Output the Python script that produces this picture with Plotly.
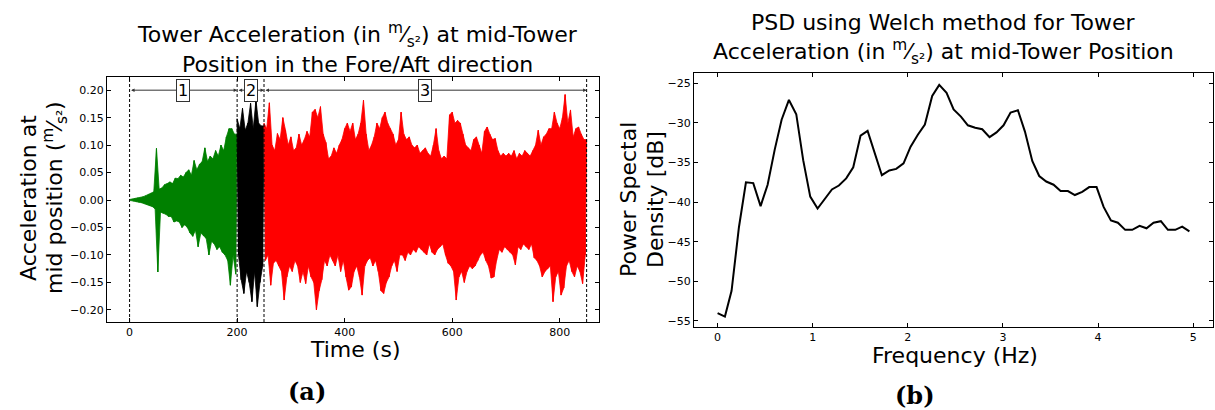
import plotly.graph_objects as go

# ---------------- data: PSD (right panel) ----------------
freq_hz = [0.0, 0.077, 0.147, 0.224, 0.298, 0.375, 0.452, 0.526, 0.6, 0.673, 0.75, 0.827, 0.9, 0.974,
           1.051, 1.128, 1.202, 1.275, 1.352, 1.426, 1.503, 1.577, 1.654, 1.727, 1.805, 1.878, 1.955,
           2.029, 2.105, 2.179, 2.256, 2.33, 2.407, 2.481, 2.558, 2.631, 2.708, 2.782, 2.859, 2.932,
           3.006, 3.08, 3.157, 3.231, 3.308, 3.381, 3.455, 3.532, 3.606, 3.683, 3.756, 3.833, 3.907,
           3.984, 4.058, 4.135, 4.208, 4.285, 4.359, 4.436, 4.509, 4.583, 4.66, 4.734, 4.811, 4.884, 4.96]
psd_db = [-54.0, -54.45, -51.2, -43.2, -37.5, -37.6, -40.5, -37.8, -33.4, -29.6, -27.1, -28.9, -34.7, -39.3,
          -40.8, -39.6, -38.4, -37.9, -37.0, -35.6, -31.6, -31.0, -34.0, -36.6, -36.0, -35.8, -35.1,
          -33.0, -31.5, -30.2, -26.6, -25.2, -26.2, -28.3, -29.2, -30.3, -30.6, -30.8, -31.8, -31.2,
          -30.3, -28.7, -28.4, -31.1, -34.8, -36.7, -37.4, -37.8, -38.6, -38.6, -39.1, -38.7, -38.1,
          -38.1, -40.6, -42.3, -42.6, -43.5, -43.5, -43.0, -43.3, -42.6, -42.4, -43.5, -43.5, -43.1, -43.7]

# ---------------- data: acceleration peaks (left panel), read every 5 s ----------------
STEP = 5
t_green = list(range(0, 200, STEP))
up_green = [0.001, 0.002, 0.003, 0.004, 0.004, 0.006, 0.008, 0.01, 0.012, 0.015,
            0.094, 0.02, 0.022, 0.028, 0.03, 0.033, 0.03, 0.04, 0.039, 0.045,
            0.042, 0.05, 0.055, 0.045, 0.072, 0.055, 0.065, 0.07, 0.095, 0.07,
            0.08, 0.075, 0.09, 0.08, 0.1, 0.09, 0.115, 0.13, 0.13, 0.12]
lo_green = [-0.001, -0.002, -0.003, -0.004, -0.005, -0.006, -0.008, -0.01, -0.012, -0.016,
            -0.131, -0.022, -0.024, -0.026, -0.03, -0.03, -0.04, -0.038, -0.04, -0.05,
            -0.045, -0.05, -0.06, -0.066, -0.055, -0.085, -0.06, -0.065, -0.07, -0.1,
            -0.075, -0.08, -0.09, -0.085, -0.095, -0.1, -0.11, -0.155, -0.1, -0.135]

t_black = list(range(200, 250, STEP))
up_black = [0.148, 0.13, 0.167, 0.127, 0.14, 0.176, 0.13, 0.182, 0.14, 0.135]
lo_black = [-0.1, -0.145, -0.17, -0.13, -0.15, -0.185, -0.13, -0.194, -0.15, -0.12]

t_red = list(range(250, 850, STEP))
up_red = [0.14, 0.13, 0.177, 0.1, 0.09, 0.121, 0.11, 0.15, 0.127, 0.1,
          0.115, 0.09, 0.095, 0.12, 0.1, 0.11, 0.125, 0.115, 0.16, 0.165,
          0.15, 0.17, 0.12, 0.105, 0.075, 0.08, 0.095, 0.085, 0.1, 0.11,
          0.13, 0.14, 0.125, 0.14, 0.11, 0.12, 0.14, 0.182, 0.12, 0.09,
          0.1, 0.115, 0.14, 0.13, 0.15, 0.16, 0.14, 0.13, 0.12, 0.1,
          0.11, 0.16, 0.12, 0.11, 0.115, 0.1, 0.095, 0.1, 0.085, 0.09,
          0.095, 0.085, 0.08, 0.1, 0.13, 0.09, 0.075, 0.08, 0.075, 0.155,
          0.16, 0.14, 0.145, 0.14, 0.12, 0.1, 0.095, 0.09, 0.11, 0.115,
          0.1, 0.085, 0.125, 0.133, 0.12, 0.11, 0.112, 0.09, 0.08, 0.085,
          0.08, 0.085, 0.08, 0.09, 0.075, 0.085, 0.08, 0.09, 0.085, 0.08,
          0.09, 0.1, 0.127, 0.1, 0.115, 0.12, 0.13, 0.13, 0.16, 0.14,
          0.13, 0.15, 0.192, 0.14, 0.164, 0.115, 0.13, 0.133, 0.12, 0.11]
lo_red = [-0.11, -0.1, -0.155, -0.115, -0.11, -0.12, -0.13, -0.182, -0.14, -0.12,
          -0.13, -0.11, -0.12, -0.15, -0.13, -0.152, -0.12, -0.14, -0.15, -0.2,
          -0.165, -0.145, -0.11, -0.12, -0.1, -0.11, -0.12, -0.1, -0.13, -0.11,
          -0.14, -0.164, -0.158, -0.13, -0.12, -0.14, -0.173, -0.12, -0.11, -0.105,
          -0.12, -0.11, -0.13, -0.165, -0.17, -0.15, -0.14, -0.12, -0.11, -0.13,
          -0.1, -0.1, -0.11, -0.095, -0.1, -0.09, -0.095, -0.085, -0.09, -0.095,
          -0.1, -0.08, -0.095, -0.1, -0.09, -0.085, -0.08, -0.1, -0.115, -0.12,
          -0.13, -0.182, -0.14, -0.13, -0.15, -0.13, -0.12, -0.125, -0.12, -0.11,
          -0.1, -0.095, -0.11, -0.12, -0.142, -0.14, -0.11, -0.09, -0.095, -0.085,
          -0.09, -0.095, -0.1, -0.118, -0.085, -0.09, -0.08, -0.085, -0.09, -0.08,
          -0.105, -0.11, -0.12, -0.14, -0.13, -0.125, -0.12, -0.185, -0.14, -0.13,
          -0.173, -0.16, -0.12, -0.11, -0.13, -0.14, -0.12, -0.13, -0.152, -0.1]

phase_bounds = [0, 200, 250, 850]
phase_labels = ["1", "2", "3"]
x_ticks_a = [0, 200, 400, 600, 800]
y_ticks_a = [-0.20, -0.15, -0.10, -0.05, 0.00, 0.05, 0.10, 0.15, 0.20]
x_ticks_b = [0, 1, 2, 3, 4, 5]
y_ticks_b = [-55, -50, -45, -40, -35, -30, -25]

FONT = "DejaVu Sans"
W, H = 1215, 410


def zigzag(ts, up, lo):
    xs, ys = [], []
    for t, u, l in zip(ts, up, lo):
        xs += [t, t + STEP / 2]
        ys += [u, l]
    return xs, ys


def envelope(ts, up, lo, t_end):
    # closed outline: upper peaks left->right, lower peaks right->left
    xs = list(ts) + [t_end] + [t + STEP / 2 for t in reversed(ts)]
    ys = list(up) + [up[-1]] + list(reversed(lo))
    return xs, ys


fig = go.Figure()
segments = [(t_green, up_green, lo_green, "#008000", 200),
            (t_black, up_black, lo_black, "#000000", 250),
            (t_red, up_red, lo_red, "#ff0000", 850)]
for ts, up, lo, col, t_end in segments:
    ex, ey = envelope(ts, up, lo, t_end)
    fig.add_trace(go.Scatter(x=ex, y=ey, mode="lines", fill="toself", fillcolor=col,
                             line=dict(color=col, width=0.8),
                             xaxis="x", yaxis="y", showlegend=False, hoverinfo="skip"))
    xs, ys = zigzag(ts, up, lo)
    fig.add_trace(go.Scatter(x=xs, y=ys, mode="lines", line=dict(color=col, width=1),
                             xaxis="x", yaxis="y", showlegend=False, hoverinfo="skip"))

fig.add_trace(go.Scatter(x=freq_hz, y=psd_db, mode="lines", line=dict(color="black", width=2),
                         xaxis="x2", yaxis="y2", showlegend=False))

axis_common = dict(showline=True, linecolor="black", linewidth=1, mirror="ticks",
                   ticks="inside", ticklen=4, tickcolor="black", showgrid=False, zeroline=False,
                   tickfont=dict(family=FONT, size=11, color="black"))


def px_x(p):
    return p / W


def px_y(p):
    return 1 - p / H


fig.update_layout(
    width=W, height=H, autosize=False,
    margin=dict(l=0, r=0, t=0, b=0),
    paper_bgcolor="white", plot_bgcolor="white",
    font=dict(family=FONT, color="black"),
    xaxis=dict(domain=[px_x(107), px_x(599)], range=[-42, 873], anchor="y",
               tickvals=x_ticks_a, **axis_common),
    yaxis=dict(domain=[px_y(322), px_y(77)], range=[-0.222, 0.224], anchor="x",
               tickvals=y_ticks_a, tickformat=".2f", **axis_common),
    xaxis2=dict(domain=[px_x(694), px_x(1213)], range=[-0.248, 5.208], anchor="y2",
                tickvals=x_ticks_b, **axis_common),
    yaxis2=dict(domain=[px_y(327), px_y(73)], range=[-55.76, -23.7], anchor="x2",
                tickvals=y_ticks_b, **axis_common),
)

# dashed phase boundaries
for b in phase_bounds:
    fig.add_shape(type="line", xref="x", yref="y domain", x0=b, x1=b, y0=0, y1=1,
                  line=dict(color="black", width=1, dash="3px,2px"))

# double arrows with labels
for i, lab in enumerate(phase_labels):
    a, b = phase_bounds[i], phase_bounds[i + 1]
    fig.add_annotation(x=b, y=0.20, ax=a, ay=0.20, xref="x", yref="y", axref="x", ayref="y",
                       text="", showarrow=True, arrowhead=2, arrowside="end+start",
                       arrowsize=0.7, arrowwidth=1, arrowcolor="#333333")
    fig.add_annotation(x=(a + b) / 2, y=0.20, xref="x", yref="y", text=lab, showarrow=False,
                       font=dict(family=FONT, size=16, color="black"), bgcolor="white",
                       bordercolor="#333333", borderwidth=1, borderpad=1)


def txt(x, y, text, size, angle=0, family=FONT):
    fig.add_annotation(x=px_x(x), y=px_y(y), xref="paper", yref="paper", text=text,
                       showarrow=False, textangle=angle, xanchor="center", yanchor="middle",
                       font=dict(family=family, size=size, color="black"))


frac = "<sup>m</sup>⁄<sub>s²</sub>"
# left panel texts
txt(357, 35, "Tower Acceleration (in " + frac + ") at mid-Tower", 22)
txt(357, 64, "Position in the Fore/Aft direction", 22)
txt(28, 198, "Acceleration at", 22, -90)
txt(55, 198, "mid position (" + frac + ")", 22, -90)
txt(355, 349, "Time (s)", 22)
txt(307, 391, "<b>(a)</b>", 24, family="DejaVu Serif")

# right panel texts
txt(944, 22, "PSD using Welch method for Tower", 22)
txt(944, 52, "Acceleration (in " + frac + ") at mid-Tower Position", 22)
txt(628, 200, "Power Spectal", 22, -90)
txt(655, 200, "Density [dB]", 22, -90)
txt(955, 355, "Frequency (Hz)", 22)
txt(915, 395, "<b>(b)</b>", 24, family="DejaVu Serif")

fig.write_html("out.html")
